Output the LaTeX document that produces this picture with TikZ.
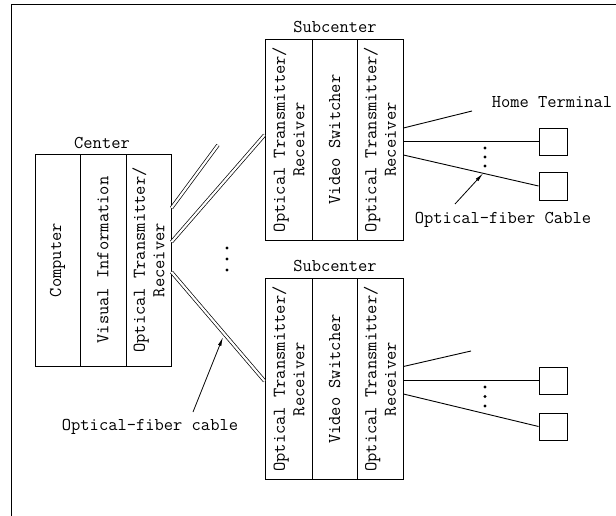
\documentclass[tikz,border=0pt]{standalone}
\usepackage{fontspec}
\usetikzlibrary{arrows.meta,calc}

\begin{document}
\begin{tikzpicture}[x=1pt, y=-1pt, line width=0.9pt,
  txt/.style={font=\ttfamily\fontsize{18}{19.5}\selectfont, inner sep=0pt, align=center},
  vtxt/.style={txt, rotate=90},
  colbox/.style={draw, inner sep=0pt, minimum width=#1},
  cbox/.style={colbox=#1, minimum height=212},
  sbox/.style={colbox=#1, minimum height=201},
  term/.style={draw, inner sep=0pt, minimum width=28, minimum height=27},
  fiber/.style={draw=black, double=white, double distance=2.2pt, line width=0.7pt},
  wire/.style={line width=0.9pt},
  pointer/.style={line width=0.8pt, -{Latex[length=9pt, width=3.5pt]}},
  dot/.style={circle, fill=black, inner sep=0pt, minimum size=3.2pt}
]
% page frame (top and left rules only)
\useasboundingbox (0,0) rectangle (616,516);
\draw[line width=1pt] (616,5) -- (11,5) -- (11,516);

% ---------------- Center ----------------
\node[cbox=45] (c1) at (57.5,260) {};
\node[cbox=46] (c2) at (103,260) {};
\node[cbox=45] (c3) at (148.5,260) {};
\node[vtxt] at (c1) {Computer};
\node[vtxt] at (c2) {Visual Information};
\node[vtxt] at (c3) {Optical Transmitter/\\Receiver};
\node[txt] (ctrlbl) at (102,143) {Center};

% ---------------- Upper subcenter ----------------
\node[sbox=47] (s1) at (288.5,139.5) {};
\node[sbox=45] (s2) at (334.5,139.5) {};
\node[sbox=46] (s3) at (380,139.5) {};
\node[vtxt] at (s1) {Optical Transmitter/\\Receiver};
\node[vtxt] at (s2) {Video Switcher};
\node[vtxt] at (s3) {Optical Transmitter/\\Receiver};
\node[txt] (sub1) at (335,27) {Subcenter};

% ---------------- Lower subcenter ----------------
\node[sbox=47] (b1) at (288.5,379) {};
\node[sbox=45] (b2) at (334.5,379) {};
\node[sbox=46] (b3) at (380,379) {};
\node[vtxt] at (b1) {Optical Transmitter/\\Receiver};
\node[vtxt] at (b2) {Video Switcher};
\node[vtxt] at (b3) {Optical Transmitter/\\Receiver};
\node[txt] (sub2) at (335,266) {Subcenter};

% ---------------- Home terminals ----------------
\node[term] (h1) at (553,141.5) {};
\node[term, minimum height=28] (h2) at (553,186) {};
\node[term] (h3) at (553,380.5) {};
\node[term] (h4) at (553,426.5) {};
\node[txt] (hlbl) at (552,102) {Home Terminal};

% ---------------- Optical-fiber cables from the center ----------------
\coordinate (spare) at (218,145);
\draw[fiber] ([yshift=52pt]c3.east) -- (spare);
\draw[fiber] ([yshift=18pt]c3.east) -- ([yshift=4.5pt]s1.west);
\draw[fiber] ([yshift=-12pt]c3.east) -- ([yshift=-2pt]b1.west);

\node[dot] at (227,248) {};
\node[dot] at (227,259) {};
\node[dot] at (227,270) {};

% ---------------- Subscriber lines, upper subcenter ----------------
\coordinate (ufree) at (472,111);
\draw[wire] ([yshift=11.5pt]s3.east) -- (ufree);
\draw[wire] (s3.east |- h1.west) -- (h1.west);
\draw[wire] ([yshift=-15.5pt]s3.east) coordinate (ulow) -- (h2.west);
\node[dot] at (485,148) {};
\node[dot] at (485,157) {};
\node[dot] at (485,166) {};

% ---------------- Subscriber lines, lower subcenter ----------------
\coordinate (lfree) at (471,351);
\draw[wire] ([yshift=12.5pt]b3.east) -- (lfree);
\draw[wire] (b3.east |- h3.west) -- (h3.west);
\draw[wire] ([yshift=-15pt]b3.east) -- (h4.west);
\node[dot] at (485,387) {};
\node[dot] at (485,396.5) {};
\node[dot] at (485,406) {};

% ---------------- Cable labels ----------------
\node[txt] (flbl1) at (503,220) {Optical-fiber Cable};
\draw[pointer] (455,204) -- ($(ulow)!0.59!(h2.west)$);
\node[txt] (flbl2) at (150,427) {Optical-fiber cable};
\coordinate (ctail) at (193,412);
\draw[pointer] (ctail) -- (223,337);
\end{tikzpicture}
\end{document}
